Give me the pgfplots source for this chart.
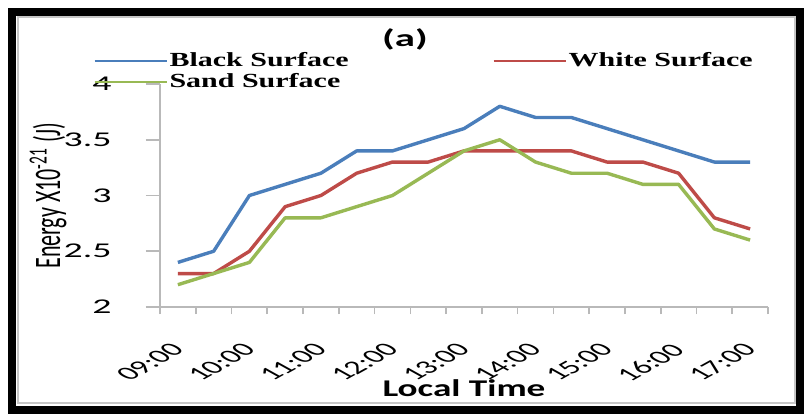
\documentclass[border=0pt]{standalone}
\usepackage{fontspec}
\setmainfont{Carlito}
\newfontfamily\legfont{Liberation Serif}
\usepackage{pgfplots}
\pgfplotsset{compat=1.18}
\definecolor{cblue}{HTML}{4A7EBB}
\definecolor{cred}{HTML}{BE4B48}
\definecolor{cgreen}{HTML}{98B954}
\newcommand{\hs}[2]{\scalebox{#1}[1]{#2}}
\newcommand{\xl}[1]{\hs{1.8}{\rotatebox{45}{#1}}}
\begin{document}
\begin{tikzpicture}
\useasboundingbox (0,0) rectangle (402pt,207pt);
\fill[white] (0,0) rectangle (402pt,207pt);
\draw[black, line width=4pt] (6pt,2.25pt) rectangle (400pt,201.25pt);
\draw[gray!45, line width=1pt] (8.75pt,5.5pt) rectangle (397.25pt,198.5pt);
\begin{axis}[
  at={(80pt,53.5pt)}, anchor=south west,
  scale only axis, width=304pt, height=111.5pt,
  xmin=-0.5, xmax=16.5, ymin=2, ymax=4,
  axis x line*=bottom, axis y line*=left,
  axis line style={draw=gray!55, line width=0.8pt},
  tick style={draw=gray!55, line width=0.8pt},
  tick align=outside,
  major tick length=7pt,
  xtick style={/pgfplots/major tick length=3.5pt},
  xtick={-0.5,0.5,...,16.5},
  xticklabels={},
  extra x ticks={0,2,...,16},
  extra x tick labels={\xl{09:00},\xl{10:00},\xl{11:00},\xl{12:00},\xl{13:00},\xl{14:00},\xl{15:00},\xl{16:00},\xl{17:00}},
  extra x tick style={grid=none, xtick style={draw=none}},
  xticklabel style={anchor=north east, inner sep=0pt, xshift=4pt, yshift=-10.5pt, font=\fontsize{9.5}{11}\selectfont},
  ytick={2,2.5,3,3.5,4},
  yticklabels={\hs{1.8}{2},\hs{1.8}{2.5},\hs{1.8}{3},\hs{1.8}{3.5},\hs{1.8}{4}},
  yticklabel style={font=\fontsize{10.5}{12}\selectfont, anchor=east, inner sep=0pt, xshift=-17pt},
  ylabel={\scalebox{1}[1.7]{Energy X10\textsuperscript{-21} (J)}},
  ylabel style={at={(axis description cs:-0.184,0.5)}, anchor=center, font=\fontsize{11}{13}\selectfont},
  xlabel={\hs{1.55}{\textbf{Local Time}}},
  xlabel style={at={(axis description cs:0.5,-0.365)}, anchor=center, font=\fontsize{12}{14}\selectfont},
  title={\hs{1.7}{\textbf{(a)}}},
  title style={at={(axis description cs:0.403,1.148)}, anchor=center, font=\fontsize{12}{14}\selectfont},
  legend columns=2,
  legend cell align=left,
  legend style={at={(axis description cs:-0.11,1.152)}, anchor=north west, draw=none, fill=none, inner sep=0pt,
    font=\legfont\bfseries\fontsize{10}{11}\selectfont,
    nodes={inner sep=1pt},
    /tikz/every even column/.append style={column sep=71pt}},
  legend image code/.code={\draw[#1, line width=1pt] (0pt,0pt) -- (36pt,0pt);},
  every axis plot/.append style={line width=1.7pt, line join=round},
]
\addplot[cblue] coordinates {(0,2.4) (1,2.5) (2,3.0) (3,3.1) (4,3.2) (5,3.4) (6,3.4) (7,3.5) (8,3.6) (9,3.8) (10,3.7) (11,3.7) (12,3.6) (13,3.5) (14,3.4) (15,3.3) (16,3.3)};
\addplot[cred] coordinates {(0,2.3) (1,2.3) (2,2.5) (3,2.9) (4,3.0) (5,3.2) (6,3.3) (7,3.3) (8,3.4) (9,3.4) (10,3.4) (11,3.4) (12,3.3) (13,3.3) (14,3.2) (15,2.8) (16,2.7)};
\addplot[cgreen] coordinates {(0,2.2) (1,2.3) (2,2.4) (3,2.8) (4,2.8) (5,2.9) (6,3.0) (7,3.2) (8,3.4) (9,3.5) (10,3.3) (11,3.2) (12,3.2) (13,3.1) (14,3.1) (15,2.7) (16,2.6)};
\legend{\hs{1.5}{Black Surface},\hs{1.5}{White Surface},\hs{1.5}{Sand Surface}}
\end{axis}
\end{tikzpicture}
\end{document}
